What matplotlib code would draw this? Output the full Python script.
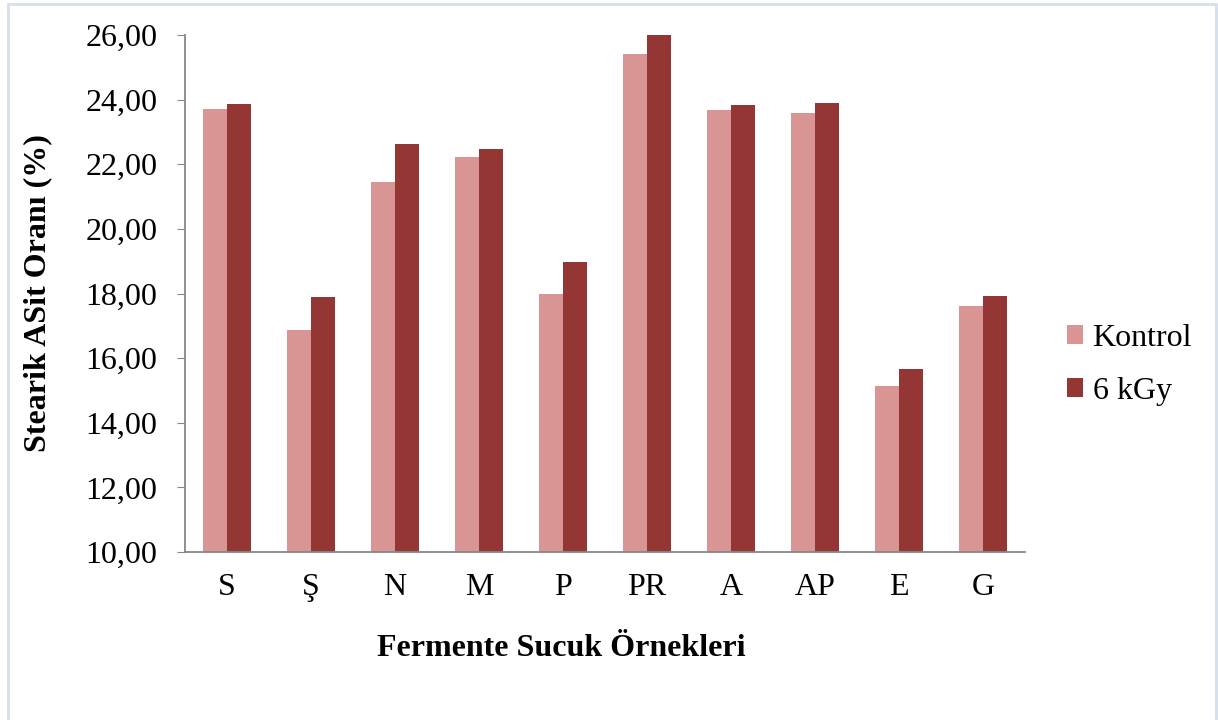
import matplotlib.pyplot as plt
from matplotlib.patches import Rectangle
import numpy as np

# === DATA ===
samples = ["S", "Ş", "N", "M", "P", "PR", "A", "AP", "E", "G"]
kontrol = [23.71, 16.87, 21.45, 22.23, 18.00, 25.42, 23.68, 23.59, 15.14, 17.62]
gy6 = [23.87, 17.89, 22.63, 22.48, 18.98, 26.00, 23.84, 23.90, 15.67, 17.93]
yticks = [10, 12, 14, 16, 18, 20, 22, 24, 26]

plt.rcParams["font.family"] = ["Liberation Serif", "DejaVu Serif"]

fig = plt.figure(figsize=(12.18, 7.2), dpi=100)
ax = fig.add_axes([185 / 1218, 1 - 552 / 720, 840 / 1218, 517 / 720])

x = np.arange(len(samples))
w = 0.285
ax.bar(x - w / 2, kontrol, w, color="#D99594", label="Kontrol")
ax.bar(x + w / 2, gy6, w, color="#943634", label="6 kGy")

ax.set_xlim(-0.5, len(samples) - 0.5)
ax.set_ylim(10, 26)
ax.set_yticks(yticks)
ax.set_yticklabels([f"{v:.2f}".replace(".", ",") for v in yticks], fontsize=23)
ax.set_xticks(x)
ax.set_xticklabels(samples, fontsize=23)
ax.tick_params(axis="y", length=6, color="#878787", pad=14)
ax.tick_params(axis="x", length=0, pad=15)

for s in ["top", "right"]:
    ax.spines[s].set_visible(False)
for s in ["left", "bottom"]:
    ax.spines[s].set_color("#878787")
    ax.spines[s].set_linewidth(1.3)

ax.set_ylabel("Stearik ASit Oranı (%)", fontsize=23, fontweight="bold")
ax.yaxis.set_label_coords(-0.158, 0.5)
ax.set_xlabel("Fermente Sucuk Örnekleri", fontsize=23, fontweight="bold")
ax.xaxis.set_label_coords(0.448, -0.158)

ax.legend(loc="center left", bbox_to_anchor=(1.05, 0.362), frameon=False,
          fontsize=23, handlelength=0.5, handleheight=0.5, handletextpad=0.3,
          labelspacing=0.75, borderpad=0, borderaxespad=0)

# light border around the chart area
fig.patches.append(Rectangle((8 / 1218, -0.01), 1208 / 1218, 1 - 4 / 720 + 0.01,
                             transform=fig.transFigure, fill=False,
                             edgecolor="#D6DFEE", linewidth=2))

plt.savefig("out.png", dpi=100)
